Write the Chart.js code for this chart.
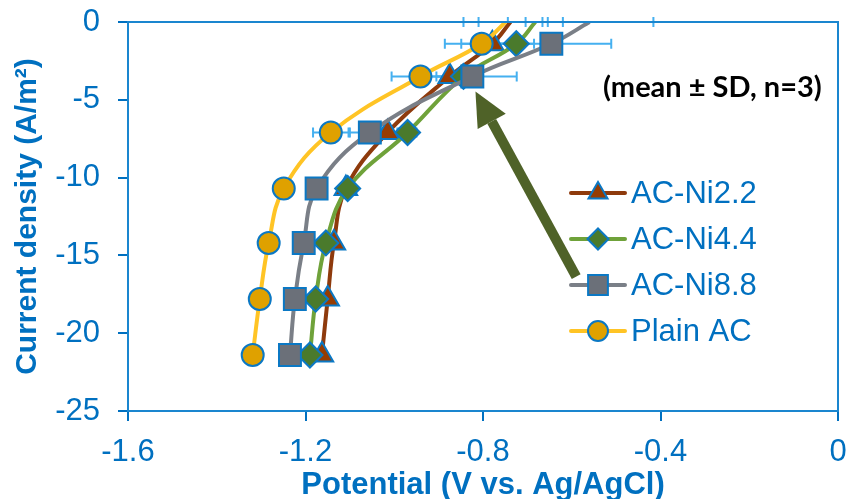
<!DOCTYPE html>
<html>
<head>
<meta charset="utf-8">
<script src="https://cdn.jsdelivr.net/npm/chart.js@4.4.1/dist/chart.umd.min.js"></script>
<style>
  html, body { margin: 0; padding: 0; background: #fff; }
  #wrap { width: 850px; height: 499px; }
</style>
</head>
<body>
<div id="wrap"><canvas id="chart" width="850" height="499"></canvas></div>
<script>
// Current density vs potential for the AC electrodes
const currentDensity = [0, -1.4, -3.5, -7.1, -10.7, -14.2, -17.8, -21.4];

const potNi22  = [-0.738, -0.779, -0.875, -1.015, -1.109, -1.136, -1.150, -1.163];
const potNi44  = [-0.682, -0.725, -0.844, -0.970, -1.105, -1.154, -1.177, -1.190];
const potNi88  = [-0.560, -0.646, -0.824, -1.055, -1.175, -1.204, -1.224, -1.235];
const potPlain = [-0.749, -0.803, -0.941, -1.143, -1.249, -1.283, -1.303, -1.319];

// standard deviation of the potential (V)
const sdNi22  = [0.072, 0.070, 0.030, 0.022, 0, 0, 0, 0];
const sdNi44  = [0.062, 0.040, 0.030, 0.020, 0, 0, 0, 0];
const sdNi88  = [0.144, 0.135, 0.100, 0.045, 0, 0, 0, 0];
const sdPlain = [0.095, 0.083, 0.065, 0.040, 0, 0, 0, 0];

const seriesNames = ["AC-Ni2.2", "AC-Ni4.4", "AC-Ni8.8", "Plain AC"];
const xTicks = [-1.6, -1.2, -0.8, -0.4, 0];
const yTicks = [0, -5, -10, -15, -20, -25];

// arrow annotation (data coords): tail -> tip
const arrowTail = { x: -0.590, y: -16.36 };
const arrowTip  = { x: -0.817, y: -4.47 };

const BLUE = "#0070C0";
const FONT = "'Liberation Sans', Arial, sans-serif";

function points(xs) {
    return xs.map((x, i) => ({ x: x, y: currentDensity[i] }));
}

function makeSet(label, xs, sd, lineColor, fill, style, radius, order) {
    return {
        label: label,
        data: points(xs),
        sd: sd,
        showLine: true,
        tension: 0.4,
        borderColor: lineColor,
        borderWidth: 4,
        pointStyle: style,
        pointBackgroundColor: fill,
        pointBorderColor: "#0B78C4",
        pointBorderWidth: 2,
        pointRadius: ctx => ctx.dataIndex === 0 ? 0 : radius,
        pointHoverRadius: ctx => ctx.dataIndex === 0 ? 0 : radius,
        order: order
    };
}

const datasets = [
    makeSet(seriesNames[0], potNi22, sdNi22, "#8E3A0C", "#963C02", "triangle", 13, 4),
    makeSet(seriesNames[1], potNi44, sdNi44, "#6FA23A", "#4A7A2C", "rectRot", 12.5, 3),
    makeSet(seriesNames[2], potNi88, sdNi88, "#7A7F87", "#6B7079", "rect", 15.5, 2),
    makeSet(seriesNames[3], potPlain, sdPlain, "#FFC425", "#DFA100", "circle", 11, 1)
];

// horizontal error bars
const errorBars = {
    id: "errorBars",
    beforeDatasetsDraw(chart) {
        const { ctx, scales: { x, y } } = chart;
        ctx.save();
        ctx.strokeStyle = "#45B0F0";
        ctx.lineWidth = 2;
        chart.data.datasets.forEach(ds => {
            ds.data.forEach((p, i) => {
                const sd = ds.sd[i];
                if (!sd) return;
                const py = y.getPixelForValue(p.y);
                const x1 = x.getPixelForValue(p.x - sd);
                const x2 = x.getPixelForValue(p.x + sd);
                ctx.beginPath();
                ctx.moveTo(x1, py); ctx.lineTo(x2, py);
                ctx.moveTo(x1, py - 5); ctx.lineTo(x1, py + 5);
                ctx.moveTo(x2, py - 5); ctx.lineTo(x2, py + 5);
                ctx.stroke();
            });
        });
        ctx.restore();
    }
};

// frame, arrow, note and legend
const extras = {
    id: "extras",
    afterDatasetsDraw(chart) {
        const { ctx, chartArea: a, scales: { x, y } } = chart;
        ctx.save();
        ctx.strokeStyle = "#1A86CF";
        ctx.lineWidth = 2;
        ctx.strokeRect(a.left, a.top, a.right - a.left, a.bottom - a.top);

        // arrow
        const tx = x.getPixelForValue(arrowTail.x), ty = y.getPixelForValue(arrowTail.y);
        const hx = x.getPixelForValue(arrowTip.x), hy = y.getPixelForValue(arrowTip.y);
        const ang = Math.atan2(hy - ty, hx - tx);
        const headLen = 34, headW = 16;
        const bx = hx - headLen * Math.cos(ang), by = hy - headLen * Math.sin(ang);
        ctx.strokeStyle = "#4F6228";
        ctx.fillStyle = "#4F6228";
        ctx.lineWidth = 10;
        ctx.beginPath();
        ctx.moveTo(tx, ty); ctx.lineTo(bx, by);
        ctx.stroke();
        ctx.beginPath();
        ctx.moveTo(hx, hy);
        ctx.lineTo(bx + headW * Math.sin(ang), by - headW * Math.cos(ang));
        ctx.lineTo(bx - headW * Math.sin(ang), by + headW * Math.cos(ang));
        ctx.closePath();
        ctx.fill();
        ctx.restore();
    },
    afterDraw(chart) {
        const { ctx, chartArea: a } = chart;
        ctx.save();
        ctx.fillStyle = "#000";
        ctx.font = "bold 29px Lato, 'Open Sans', sans-serif";
        ctx.textBaseline = "middle";
        ctx.fillText("(mean \u00B1 SD, n=3)", a.right - 235, a.top + 66);

        const legendSizes = [11, 10.5, 14, 10];
        chart.data.datasets.forEach((ds, i) => {
            const ly = a.top + 171 + i * 46;
            const lx = a.right - 267;
            ctx.strokeStyle = ds.borderColor;
            ctx.lineWidth = 4;
            ctx.lineCap = "round";
            ctx.beginPath();
            ctx.moveTo(lx, ly); ctx.lineTo(lx + 54, ly);
            ctx.stroke();
            ctx.fillStyle = ds.pointBackgroundColor;
            ctx.strokeStyle = ds.pointBorderColor;
            ctx.lineWidth = 2;
            Chart.helpers.drawPoint(ctx, {
                pointStyle: ds.pointStyle, radius: legendSizes[i], rotation: 0, borderWidth: 2
            }, lx + 27, ly);
            ctx.fillStyle = BLUE;
            ctx.font = "31px " + FONT;
            ctx.textBaseline = "middle";
            ctx.fillText(ds.label, lx + 60, ly + 1);
        });
        ctx.restore();
    }
};

function noEdgePadding(s) {
    s.paddingTop = 0; s.paddingBottom = 0;
    s.paddingLeft = 0; s.paddingRight = 0;
}

new Chart(document.getElementById("chart").getContext("2d"), {
    type: "scatter",
    data: { datasets: datasets },
    options: {
        responsive: false,
        animation: false,
        layout: { autoPadding: false, padding: { top: 22, right: 12, left: 0, bottom: 0 } },
        plugins: {
            legend: { display: false },
            tooltip: { enabled: false }
        },
        scales: {
            x: {
                type: "linear",
                min: -1.6,
                max: 0,
                afterFit: s => { s.height = 88; noEdgePadding(s); },
                afterBuildTicks: s => { s.ticks = xTicks.map(v => ({ value: v })); },
                ticks: {
                    color: BLUE,
                    font: { family: FONT, size: 31 },
                    padding: 13,
                    callback: v => String(v)
                },
                grid: { drawOnChartArea: false, tickLength: 10, color: BLUE, lineWidth: 2 },
                border: { color: BLUE, width: 2 },
                title: {
                    display: true,
                    text: "Potential (V vs. Ag/AgCl)",
                    color: BLUE,
                    font: { family: FONT, size: 31, weight: "bold" },
                    padding: { top: 0, bottom: -5 }
                }
            },
            y: {
                type: "linear",
                min: -25,
                max: 0,
                afterFit: s => { s.width = 128; noEdgePadding(s); },
                afterBuildTicks: s => { s.ticks = yTicks.map(v => ({ value: v })); },
                ticks: {
                    color: BLUE,
                    font: { family: FONT, size: 31 },
                    padding: 18,
                    callback: v => String(v)
                },
                grid: { drawOnChartArea: false, tickLength: 10, color: BLUE, lineWidth: 2 },
                border: { color: BLUE, width: 2 },
                title: {
                    display: true,
                    text: "Current density (A/m\u00B2)",
                    color: BLUE,
                    font: { family: FONT, size: 30, weight: "bold" },
                    padding: { top: 10, bottom: 0 }
                }
            }
        }
    },
    plugins: [errorBars, extras]
});
</script>
</body>
</html>
